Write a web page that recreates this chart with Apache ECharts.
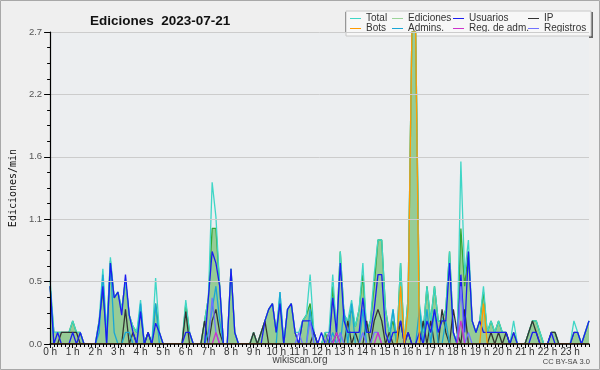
<!DOCTYPE html>
<html><head><meta charset="utf-8">
<script src="https://cdn.jsdelivr.net/npm/echarts@6/dist/echarts.min.js"></script>
<style>html,body{margin:0;padding:0;background:#efefef}#c{width:600px;height:370px}</style>
</head><body><div id="c"></div>
<script>
// 10-minute bins, 144 per day (values in edits/min)
const hourLabels = ['0 h','1 h','2 h','3 h','4 h','5 h','6 h','7 h','8 h','9 h','10 h','11 h','12 h','13 h','14 h','15 h','16 h','17 h','18 h','19 h','20 h','21 h','22 h','23 h'];
const yTickLabels = ['0.0','0.5','1.1','1.6','2.2','2.7'];
const seriesNames = ['Total','Ediciones','Usuarios','IP','Bots','Admins.','Reg. de adm.','Registros'];

const total = [
0.55,0.1,0.1,0.1,0.1,0.1,0.2,0.1,0.1,0,0,0,
0,0.2,0.65,0.1,0.75,0.4,0.45,0.3,0.55,0.25,0.15,0.1,
0.38,0,0.1,0,0.57,0.1,0,0,0,0,0,0,
0.38,0.1,0,0,0,0.2,0.4,1.4,1.1,0.5,0,0,
0.65,0.1,0,0,0,0,0.1,0,0.1,0.2,0.3,0.35,
0.1,0.45,0,0.3,0.35,0.1,0.1,0.2,0.25,0.6,0.1,0,
0,0.1,0.1,0.6,0.1,0.8,0.25,0.2,0.38,0.15,0.3,0.7,
0.1,0.2,0.6,0.9,0.9,0.3,0.1,0.3,0,0.7,0,0.4,
2.7,2.7,0.35,0.1,0.5,0.2,0.5,0.2,0.2,0.3,0.8,0.1,
0,1.58,0.6,0.9,0.2,0.1,0.2,0.5,0.1,0.2,0.1,0.2,
0.1,0.1,0,0.2,0,0,0,0.1,0.2,0.2,0.1,0,
0,0.1,0.1,0,0,0,0,0.2,0.1,0,0.1,0.2];
const ediciones = [
0.5,0.1,0.1,0.1,0.1,0.1,0.2,0.1,0.1,0,0,0,
0,0.2,0.45,0.1,0.72,0.4,0.45,0.3,0.55,0.25,0.15,0.1,
0.3,0,0.1,0,0.35,0.1,0,0,0,0,0,0,
0.35,0.1,0,0,0,0.2,0.4,1.0,1.0,0.5,0,0,
0.65,0.1,0,0,0,0,0.1,0,0.1,0.2,0.3,0.35,
0.1,0.4,0,0.3,0.35,0.1,0,0.2,0.25,0.35,0.1,0,
0,0.1,0,0.5,0.1,0.8,0.25,0.2,0.3,0.15,0.3,0.6,
0.1,0.2,0.5,0.9,0.9,0.3,0.1,0.2,0,0.7,0,0.4,
2.7,2.7,0.3,0.1,0.5,0.2,0.5,0.2,0.2,0.3,0.8,0.1,
0,1.0,0.5,0.8,0.2,0.1,0.2,0.45,0.1,0.2,0.1,0.2,
0.1,0.1,0,0.1,0,0,0,0.1,0.2,0.2,0.1,0,
0,0.1,0.1,0,0,0,0,0.1,0.1,0,0.1,0.2];
const usuarios = [
0.5,0,0.1,0,0,0,0.1,0,0.1,0,0,0,
0,0.18,0.5,0,0.7,0.4,0.45,0.25,0.6,0.25,0.1,0,
0.28,0,0.1,0,0.18,0.1,0,0,0,0,0,0,
0.1,0.1,0,0,0,0,0.4,0.8,0.7,0.5,0,0,
0.65,0.1,0,0,0,0,0,0,0,0.2,0.3,0.35,
0.1,0.35,0,0.3,0.35,0.1,0,0.2,0.2,0.2,0.1,0,
0.1,0,0,0.4,0.1,0.7,0.2,0.1,0.1,0.1,0.1,0.4,
0.1,0.1,0.3,0.6,0.6,0.1,0,0.1,0.1,0.2,0,0.1,
0,0,0.1,0,0.2,0.1,0.3,0.1,0.2,0.2,0.7,0.1,
0,0.6,0.1,0.8,0.2,0.1,0.2,0.1,0.1,0.1,0.1,0.1,
0.1,0.1,0,0.1,0,0,0,0,0.1,0.1,0,0,
0,0.1,0,0,0,0,0,0.1,0.1,0,0.1,0.2];
const ip = [
0,0,0,0.1,0.1,0.1,0.1,0.1,0,0,0,0,
0,0,0,0,0,0,0,0,0.3,0,0.1,0,
0,0,0.1,0,0,0,0,0,0,0,0,0,
0.28,0,0,0,0,0.2,0,0.2,0.3,0.1,0,0,
0,0,0,0,0,0,0.1,0,0.1,0.2,0,0,
0,0,0,0,0,0,0,0,0,0,0.1,0,
0,0,0.1,0,0.1,0,0,0.2,0,0.1,0,0,
0.2,0,0.2,0.3,0.2,0,0.1,0,0,0.2,0,0.1,
0,0,0,0.2,0,0.2,0,0,0.3,0.1,0,0.3,
0.1,0,0.3,0,0,0,0,0,0,0.1,0,0.1,
0,0.1,0,0,0,0,0,0.1,0.2,0.1,0,0,
0,0.1,0.1,0,0,0,0,0,0,0,0,0];
const bots = [
0,0,0,0,0,0,0,0,0,0,0,0,
0,0,0,0,0,0,0,0,0,0,0,0,
0,0,0,0,0,0,0,0,0,0,0,0,
0,0,0,0,0,0,0,0,0,0,0,0,
0,0,0,0,0,0,0,0,0,0,0,0,
0,0,0,0,0,0,0,0,0,0,0,0,
0,0,0,0,0,0,0,0,0,0,0,0,
0,0,0,0,0,0,0,0,0,0.5,0,0.3,
2.7,2.7,0,0,0,0,0,0,0,0,0,0,
0,0,0,0,0,0,0,0.35,0,0,0,0,
0,0,0,0,0,0,0,0,0,0,0,0,
0,0,0,0,0,0,0,0,0,0,0,0];
const admins = [
0.5,0,0,0,0,0,0,0,0,0,0,0,
0,0.1,0.6,0,0.7,0.1,0,0,0.1,0.1,0,0,
0.35,0,0,0,0.35,0,0,0,0,0,0,0,
0,0,0,0,0,0,0.1,0.3,0.5,0.2,0,0,
0,0,0,0,0,0,0,0,0,0,0,0,
0,0.45,0,0,0,0,0,0,0,0.3,0,0,
0,0,0,0.1,0,0,0.3,0,0.35,0,0,0.3,
0,0,0,0,0,0,0,0.3,0,0,0,0,
0,0,0.3,0,0.3,0,0.3,0,0,0.2,0,0,
0,0,0,0,0,0,0,0,0,0,0,0,
0,0,0,0,0,0,0,0,0,0,0,0,
0,0,0,0,0,0,0,0,0,0,0,0];
const regAdm = [
0,0,0,0,0,0,0,0,0,0,0,0,
0,0,0,0,0,0,0,0,0,0,0,0,
0,0,0,0,0,0,0,0,0,0,0,0,
0,0,0,0,0,0,0,0,0.1,0,0,0,
0,0,0,0,0,0,0,0,0,0,0,0,
0,0,0,0,0,0,0,0,0,0,0,0,
0,0,0,0,0.1,0,0,0,0,0,0,0,
0,0,0,0.1,0,0,0,0,0,0,0,0,
0,0,0,0,0,0,0,0,0,0,0,0,
0,0.2,0,0,0,0,0,0,0,0,0,0,
0,0,0,0,0,0,0,0,0,0,0,0,
0,0,0,0,0,0,0,0,0,0,0,0];
const registros = [
0,0,0,0,0,0,0,0,0,0,0,0,
0,0,0,0,0,0,0,0,0,0,0,0,
0,0,0,0,0,0,0,0,0,0,0,0,
0,0,0,0,0,0,0,0.4,0.1,0,0,0,
0,0,0,0,0,0,0,0,0,0,0,0,
0,0,0,0,0,0,0.1,0,0,0.2,0,0,
0,0,0.1,0,0,0.1,0,0,0,0,0,0.1,
0,0,0.1,0.1,0,0,0,0,0,0,0,0,
0,0,0,0,0,0,0,0,0,0,0,0,
0,0.5,0,0.1,0,0,0,0,0,0,0,0,
0,0,0,0,0,0,0,0,0,0,0,0,
0,0,0,0,0,0,0,0,0,0,0,0];

const colors = {
  'Total':'#3fd6c6','Ediciones':'#33a833','Usuarios':'#1c1cf0','IP':'#333333',
  'Bots':'#ff9a00','Admins.':'#1aa6d6','Reg. de adm.':'#cc33cc','Registros':'#7272ff'
};
const pairs = a => a.map((v,i)=>[i,v]);
const chart = echarts.init(document.getElementById('c'), null, {renderer:'canvas'});

function lineSeries(name, arr, z, extra){
  return Object.assign({
    name, type:'line', data:pairs(arr), symbol:'none', z,
    color: colors[name],
    lineStyle:{width:1.3, color:colors[name]},
    emphasis:{disabled:true}
  }, extra||{});
}

const legendItems = [
  {name:'Total', left:350, top:13},
  {name:'Ediciones', left:392, top:13},
  {name:'Usuarios', left:453, top:13},
  {name:'IP', left:528, top:13},
  {name:'Bots', left:350, top:23},
  {name:'Admins.', left:392, top:23},
  {name:'Reg. de adm.', left:453, top:23},
  {name:'Registros', left:528, top:23}
];

const option = {
  animation:false,
  backgroundColor:'#efefef',
  title:{text:'Ediciones  2023-07-21', left:85, top:9,
    textStyle:{fontFamily:'Liberation Sans', fontWeight:'bold', fontSize:13.5, color:'#111'}},
  grid:{left:46, right:11, top:32, bottom:26, show:true, backgroundColor:'#eceef0', borderWidth:0},
  legend: legendItems.map(l=>({
    data:[l.name], left:l.left, top:l.top, padding:0, itemGap:0,
    itemWidth:11, itemHeight:1, icon:'rect', selectedMode:false,
    textStyle:{fontFamily:'Liberation Sans', fontSize:10, color:'#333', lineHeight:11, padding:[0,0,0,0]}
  })),
  graphic:[
    {type:'rect', shape:{x:0.5,y:0.5,width:599,height:369}, style:{fill:'none', stroke:'#a8a8a8', lineWidth:1}, z:100},
    {type:'rect', shape:{x:345,y:12,width:248,height:26}, style:{fill:'#666'}, z:-1},
    {type:'rect', shape:{x:346,y:11,width:245,height:25}, style:{fill:'#f7f7f7', stroke:'#c8c8c8', lineWidth:1}, z:0},
    {type:'text', left:'center', top:355, style:{text:'wikiscan.org', fontFamily:'Liberation Sans', fontSize:10, fill:'#444'}},
    {type:'text', right:10, top:358, style:{text:'CC BY-SA 3.0', fontFamily:'Liberation Sans', fontSize:7.5, fill:'#444'}}
  ],
  xAxis:[
    {type:'value', min:0, max:143, interval:6, z:20,
      axisLine:{lineStyle:{color:'#000', width:1.5}},
      axisTick:{length:4, lineStyle:{color:'#000'}},
      axisLabel:{showMaxLabel:false, margin:3, fontFamily:'Liberation Sans', fontSize:10, color:'#333',
        formatter:v=>hourLabels[Math.round(v/6)] || ''},
      splitLine:{show:false}},
    {type:'value', min:0, max:143, interval:1, position:'bottom', z:20,
      axisLine:{show:false}, axisTick:{length:3, lineStyle:{color:'#000'}},
      axisLabel:{show:false}, splitLine:{show:false}}
  ],
  yAxis:{type:'value', min:0, max:2.7, interval:0.54, z:20,
    name:'Ediciones/min', nameLocation:'middle', nameGap:32, nameRotate:90,
    nameTextStyle:{fontFamily:'DejaVu Sans Mono', fontSize:10, color:'#111'},
    axisLine:{show:true, lineStyle:{color:'#000', width:1.2}},
    axisTick:{show:true, length:6, lineStyle:{color:'#000'}},
    minorTick:{show:true, splitNumber:4, length:3, lineStyle:{color:'#000'}},
    axisLabel:{margin:8, fontFamily:'Liberation Sans', fontSize:9.5, color:'#555',
      formatter:v=>yTickLabels[Math.round(v/0.54)]},
    splitLine:{show:true, lineStyle:{color:'#cccccc', width:1}}},
  series:[
    lineSeries('Ediciones', ediciones, 2, {areaStyle:{color:'#96cc96', opacity:1}, color:'#9ad49a'}),
    lineSeries('Total', total, 3),
    lineSeries('IP', ip, 4),
    lineSeries('Admins.', admins, 5),
    lineSeries('Usuarios', usuarios, 6),
    lineSeries('Registros', registros, 7),
    lineSeries('Reg. de adm.', regAdm, 8),
    lineSeries('Bots', bots, 9)
  ]
};
chart.setOption(option);
</script>
</body></html>
